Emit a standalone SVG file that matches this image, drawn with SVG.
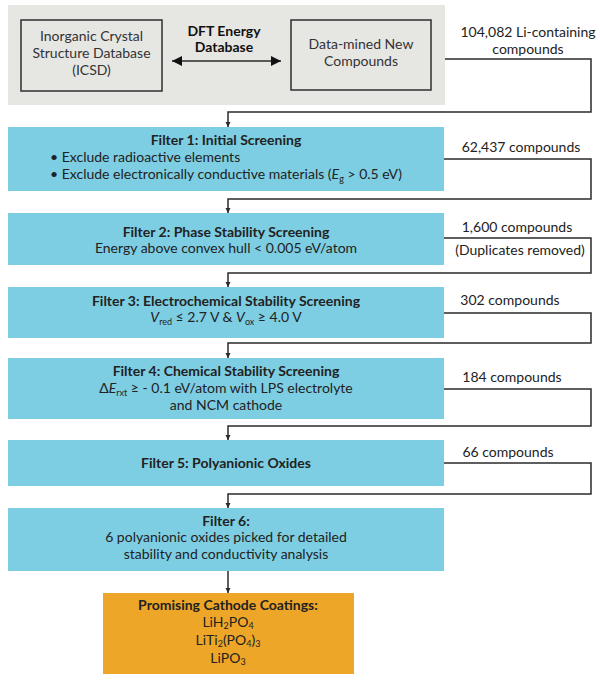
<svg xmlns="http://www.w3.org/2000/svg" width="600" height="683" viewBox="0 0 600 683">
<defs>
<style>
text{font-family:Lato,"Noto Sans","DejaVu Sans",sans-serif;fill:#222;font-size:14px}
.b{font-weight:bold}
.c{text-anchor:middle}
.g{fill:#333}
.cy{fill:#7dcee3}
.gr{fill:#e6e6e3}
.bx{fill:#e6e6e3;stroke:#3a3a3a;stroke-width:1.6}
.ln{fill:none;stroke:#2a2a2a;stroke-width:1.5}
.sub{font-size:9px}
</style>
<marker id="ah" viewBox="0 0 10 10" refX="10" refY="5" markerWidth="5" markerHeight="6" markerUnits="userSpaceOnUse" orient="auto">
<path d="M0,0 L10,5 L0,10 Z" fill="#2a2a2a"/>
</marker>
<marker id="big" viewBox="0 0 10 10" refX="10" refY="5" markerWidth="12" markerHeight="10" markerUnits="userSpaceOnUse" orient="auto-start-reverse">
<path d="M0,0 L10,5 L0,10 Z" fill="#111"/>
</marker>
</defs>
<rect width="600" height="683" fill="#fff"/>

<g id="sources">
<rect class="gr" x="8" y="5" width="437" height="100"/>
</g>
<g id="icsd">
<rect class="bx" x="21" y="20" width="141" height="71"/>
<text class="c g" x="91.5" y="41">Inorganic Crystal</text>
<text class="c g" x="91.5" y="58">Structure Database</text>
<text class="c g" x="91.5" y="75">(ICSD)</text>
</g>
<g id="dft">
<text class="c b" x="224" y="36" style="fill:#111">DFT Energy</text>
<text class="c b" x="224" y="52" style="fill:#111">Database</text>
</g>
<g id="datamined">
<rect class="bx" x="291" y="20" width="140" height="70"/>
<text class="c g" x="361" y="49">Data-mined New</text>
<text class="c g" x="361" y="66">Compounds</text>
</g>

<g id="connectors">
<path class="ln" d="M172,61 H281" stroke="#111" marker-start="url(#big)" marker-end="url(#big)"/>
<path class="ln" d="M445,59 H591 V112 H228 V127" marker-end="url(#ah)"/>
<path class="ln" d="M444,159 H591 V199 H228 V213" marker-end="url(#ah)"/>
<path class="ln" d="M444,238 H591 V273 H228 V287" marker-end="url(#ah)"/>
<path class="ln" d="M444,313 H591 V343 H228 V358" marker-end="url(#ah)"/>
<path class="ln" d="M444,389 H591 V426 H228 V440" marker-end="url(#ah)"/>
<path class="ln" d="M444,463 H591 V494 H228 V508" marker-end="url(#ah)"/>
<path class="ln" d="M228,571 V593" marker-end="url(#ah)"/>
</g>

<g id="labels">
<text class="c" x="528" y="37">104,082 Li-containing</text>
<text class="c" x="528" y="54">compounds</text>
<text class="c" x="521" y="152">62,437 compounds</text>
<text class="c" x="517" y="232">1,600 compounds</text>
<text class="c" x="520" y="255">(Duplicates removed)</text>
<text class="c" x="510" y="305">302 compounds</text>
<text class="c" x="512" y="382">184 compounds</text>
<text class="c" x="508" y="457">66 compounds</text>
</g>

<g id="filter1">
<rect class="cy" x="8" y="127" width="436" height="64"/>
<text class="c b" x="226" y="145">Filter 1: Initial Screening</text>
<text x="50" y="162">• Exclude radioactive elements</text>
<text x="50" y="179">• Exclude electronically conductive materials (<tspan font-style="italic">E</tspan><tspan class="sub" dy="3">g</tspan><tspan dy="-3"> &gt; 0.5 eV)</tspan></text>
</g>
<g id="filter2">
<rect class="cy" x="8" y="213" width="436" height="52"/>
<text class="c b" x="226" y="237">Filter 2: Phase Stability Screening</text>
<text class="c" x="226" y="253">Energy above convex hull &lt; 0.005 eV/atom</text>
</g>
<g id="filter3">
<rect class="cy" x="8" y="287" width="436" height="51"/>
<text class="c b" x="226" y="306">Filter 3: Electrochemical Stability Screening</text>
<text class="c" x="226" y="322"><tspan font-style="italic">V</tspan><tspan class="sub" dy="3">red</tspan><tspan dy="-3"> ≤ 2.7 V &amp; </tspan><tspan font-style="italic">V</tspan><tspan class="sub" dy="3">ox</tspan><tspan dy="-3"> ≥ 4.0 V</tspan></text>
</g>
<g id="filter4">
<rect class="cy" x="8" y="358" width="436" height="61"/>
<text class="c b" x="226" y="376">Filter 4: Chemical Stability Screening</text>
<text class="c" x="226" y="393">Δ<tspan font-style="italic">E</tspan><tspan class="sub" dy="3">rxt</tspan><tspan dy="-3"> ≥ - 0.1 eV/atom with LPS electrolyte</tspan></text>
<text class="c" x="226" y="410">and NCM cathode</text>
</g>
<g id="filter5">
<rect class="cy" x="8" y="440" width="436" height="46"/>
<text class="c b" x="226" y="468">Filter 5: Polyanionic Oxides</text>
</g>
<g id="filter6">
<rect class="cy" x="8" y="508" width="436" height="63"/>
<text class="c b" x="226" y="526">Filter 6:</text>
<text class="c" x="226" y="542">6 polyanionic oxides picked for detailed</text>
<text class="c" x="226" y="559">stability and conductivity analysis</text>
</g>
<g id="result">
<rect x="103" y="593" width="251" height="81" fill="#eea628"/>
<text class="c b" x="228" y="610">Promising Cathode Coatings:</text>
<text class="c" x="228" y="627">LiH<tspan class="sub" dy="2">2</tspan><tspan dy="-2">PO</tspan><tspan class="sub" dy="2">4</tspan></text>
<text class="c" x="228" y="645">LiTi<tspan class="sub" dy="2">2</tspan><tspan dy="-2">(PO</tspan><tspan class="sub" dy="2">4</tspan><tspan dy="-2">)</tspan><tspan class="sub" dy="2">3</tspan></text>
<text class="c" x="228" y="663">LiPO<tspan class="sub" dy="2">3</tspan></text>
</g>
</svg>
